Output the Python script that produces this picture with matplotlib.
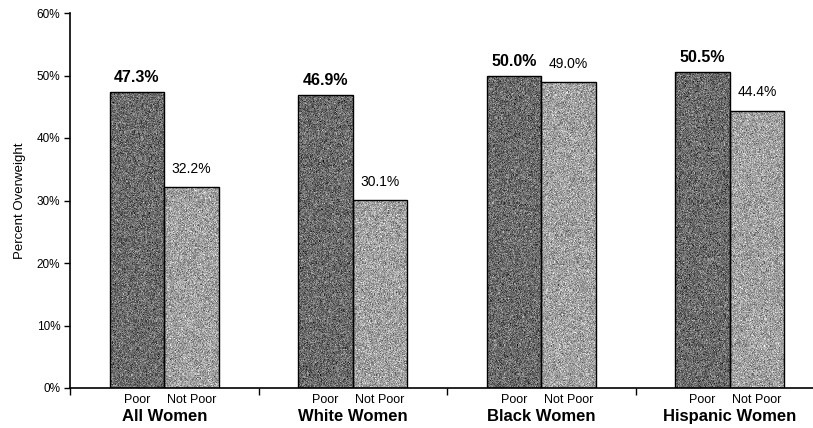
import numpy as np
import matplotlib
matplotlib.use('Agg')
import matplotlib.pyplot as plt
import matplotlib.transforms as mtransforms

groups = ['All Women', 'White Women', 'Black Women', 'Hispanic Women']
series = ['Poor', 'Not Poor']
poor = [47.3, 46.9, 50.0, 50.5]
not_poor = [32.2, 30.1, 49.0, 44.4]
yticks = [0, 10, 20, 30, 40, 50, 60]

plt.rcParams['font.family'] = ['Liberation Sans', 'DejaVu Sans']

fig = plt.figure(figsize=(8.13, 4.28), dpi=100)
# axes runs a little past the right edge, like the original export
ax = fig.add_axes([70 / 813, 40 / 428, 754 / 813, 375 / 428])

x = np.arange(len(groups))
w = 0.29
off = 0.145

rng = np.random.default_rng(3)

def grainy_bars(xs, vals, base, spread):
    bars = ax.bar(xs, vals, width=w, color='none', edgecolor='black',
                  linewidth=1.0, zorder=3)
    for b in bars:
        noise = np.clip(base + spread * rng.standard_normal((int(b.get_height() * 6) + 2, 56)), 0, 1)
        im = ax.imshow(noise, cmap='gray', vmin=0, vmax=1, aspect='auto',
                       interpolation='nearest',
                       extent=(b.get_x(), b.get_x() + b.get_width(), 0, b.get_height()),
                       zorder=2)
        im.set_clip_path(b)
    return bars

bp = grainy_bars(x - off, poor, 0.42, 0.11)
bn = grainy_bars(x + off, not_poor, 0.63, 0.11)

# value labels
for b, v in zip(bp, poor):
    ax.annotate(f'{v:.1f}%', (b.get_x() + b.get_width() / 2, v), xytext=(0, 5),
                textcoords='offset points', ha='center', va='bottom',
                fontsize=11.5, fontweight='bold')
for b, v in zip(bn, not_poor):
    ax.annotate(f'{v:.1f}%', (b.get_x() + b.get_width() / 2, v), xytext=(0, 8),
                textcoords='offset points', ha='center', va='bottom',
                fontsize=10)

ax.set_xlim(-0.5, len(groups) - 0.5)
ax.set_ylim(0, 60)
ax.set_yticks(yticks)
ax.set_yticklabels([f'{t}%' for t in yticks], fontsize=8.5)
ax.tick_params(axis='y', length=4, width=1, pad=3)

# sub labels under each bar, group boundaries as minor ticks
centers = np.concatenate([x - off, x + off])
ax.set_xticks(centers)
ax.set_xticklabels(['Poor'] * len(groups) + ['Not Poor'] * len(groups), fontsize=9)
ax.set_xticks(np.arange(-0.5, len(groups), 1.0), minor=True)
ax.tick_params(axis='x', which='major', length=0, pad=4)
ax.tick_params(axis='x', which='minor', length=5, width=1)

trans = mtransforms.blended_transform_factory(ax.transData, ax.transAxes)
for xi, g in zip(x, groups):
    ax.text(xi, -0.077, g, transform=trans, ha='center', va='center',
            fontsize=12, fontweight='bold')

ax.set_ylabel('Percent Overweight', fontsize=9.5, labelpad=8)

for s in ['top', 'right']:
    ax.spines[s].set_visible(False)
ax.spines['left'].set_linewidth(1.2)
ax.spines['bottom'].set_linewidth(1.2)

fig.savefig('out.png', dpi=100)
